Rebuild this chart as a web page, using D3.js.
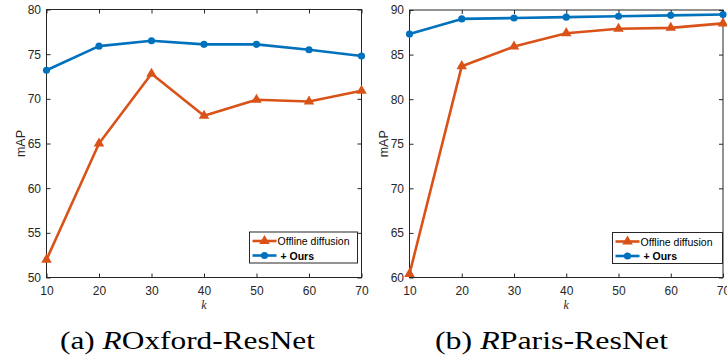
<!DOCTYPE html>
<html>
<head>
<meta charset="utf-8">
<script src="https://cdn.jsdelivr.net/npm/d3@7"></script>
<style>
  body { margin: 0; background: #fff; }
  svg text { font-family: "Liberation Sans", Arial, sans-serif; }
</style>
</head>
<body>
<div id="chart"></div>
<script>
// data
const kValues = [10, 20, 30, 40, 50, 60, 70];
const oxfordOffline = [52.0, 65.0, 72.8, 68.1, 69.9, 69.7, 70.9];
const oxfordOurs = [73.2, 75.9, 76.5, 76.1, 76.1, 75.5, 74.8];
const parisOffline = [60.4, 83.7, 85.9, 87.4, 87.9, 88.0, 88.5];
const parisOurs = [87.3, 89.0, 89.1, 89.2, 89.3, 89.4, 89.5];
const oxfordTicks = [50, 55, 60, 65, 70, 75, 80];
const parisTicks = [60, 65, 70, 75, 80, 85, 90];
const seriesNames = ["Offline diffusion", " + Ours"];

const orange = "#d95319", blue = "#0072bd", axisCol = "#262626";

const svg = d3.select("#chart").append("svg")
    .attr("width", 727)
    .attr("height", 360);

function drawPanel(opt) {
    const g = svg.append("g");
    const x = d3.scaleLinear().domain([10, 70]).range([opt.left, opt.right]);
    const y = d3.scaleLinear().domain(opt.yDomain).range([opt.bottom, opt.top]);

    // box
    g.append("rect")
        .attr("x", opt.left).attr("y", opt.top)
        .attr("width", opt.right - opt.left).attr("height", opt.bottom - opt.top)
        .attr("fill", "none").attr("stroke", axisCol).attr("stroke-width", 1);

    // axes, ticks pointing inward on all four sides
    const xb = g.append("g")
        .attr("transform", "translate(0," + opt.bottom + ")")
        .call(d3.axisBottom(x).tickValues(kValues).tickSizeInner(-4).tickSizeOuter(0).tickPadding(8.5));
    const xt = g.append("g")
        .attr("transform", "translate(0," + opt.top + ")")
        .call(d3.axisTop(x).tickValues(kValues).tickSizeInner(-4).tickSizeOuter(0).tickFormat(""));
    const yl = g.append("g")
        .attr("transform", "translate(" + opt.left + ",0)")
        .call(d3.axisLeft(y).tickValues(opt.yTicks).tickSizeInner(-4).tickSizeOuter(0).tickPadding(5.5));
    const yr = g.append("g")
        .attr("transform", "translate(" + opt.right + ",0)")
        .call(d3.axisRight(y).tickValues(opt.yTicks).tickSizeInner(-4).tickSizeOuter(0).tickFormat(""));
    [xb, xt, yl, yr].forEach(a => {
        a.select(".domain").remove();
        a.selectAll("line").attr("stroke", axisCol);
        a.selectAll("text").attr("fill", axisCol).style("font-size", "12px")
            .style("font-family", "'Liberation Sans', Arial, sans-serif");
    });

    // axis labels
    g.append("text")
        .attr("transform", "translate(" + (opt.left - 22) + "," + ((opt.top + opt.bottom) / 2) + ")rotate(-90)")
        .attr("text-anchor", "middle")
        .attr("fill", axisCol)
        .style("font-size", "12.5px")
        .text("mAP");
    g.append("text")
        .attr("x", (opt.left + opt.right) / 2)
        .attr("y", opt.bottom + 31.5)
        .attr("text-anchor", "middle")
        .attr("fill", axisCol)
        .style("font-family", "'Liberation Serif', serif")
        .style("font-style", "italic")
        .style("font-size", "12px")
        .text("k");

    // lines
    const line = d3.line().x((d, i) => x(kValues[i])).y(d => y(d));
    const series = [
        { vals: opt.offline, col: orange, marker: "tri" },
        { vals: opt.ours, col: blue, marker: "circ" }
    ];
    const clip = "clip" + opt.id;
    svg.append("clipPath").attr("id", clip).append("rect")
        .attr("x", opt.left - 10).attr("y", opt.top - 10)
        .attr("width", 727 - opt.left + 10).attr("height", opt.bottom - opt.top + 20);
    const pg = g.append("g").attr("clip-path", "url(#" + clip + ")");
    series.forEach(s => {
        pg.append("path")
            .datum(s.vals)
            .attr("d", line)
            .attr("fill", "none")
            .attr("stroke", s.col)
            .attr("stroke-width", 2.6)
            .attr("stroke-linejoin", "round");
        pg.selectAll(null)
            .data(s.vals)
            .enter()
            .append("path")
            .attr("transform", (d, i) => "translate(" + x(kValues[i]) + "," + y(d) + ")")
            .attr("d", s.marker === "tri"
                ? d3.symbol().type(d3.symbolTriangle).size(48)
                : d3.symbol().type(d3.symbolCircle).size(40))
            .attr("fill", s.col);
    });

    // legend
    const lg = g.append("g");
    lg.append("rect")
        .attr("x", opt.legX).attr("y", opt.legY)
        .attr("width", opt.legW).attr("height", 31)
        .attr("fill", "#fff").attr("stroke", axisCol).attr("stroke-width", 1);
    series.forEach((s, i) => {
        const cy = opt.legY + 9 + i * 14.5;
        lg.append("line")
            .attr("x1", opt.legX + 3).attr("x2", opt.legX + 27)
            .attr("y1", cy).attr("y2", cy)
            .attr("stroke", s.col).attr("stroke-width", 2.6);
        lg.append("path")
            .attr("transform", "translate(" + (opt.legX + 15) + "," + cy + ")")
            .attr("d", s.marker === "tri"
                ? d3.symbol().type(d3.symbolTriangle).size(48)
                : d3.symbol().type(d3.symbolCircle).size(40))
            .attr("fill", s.col);
        lg.append("text")
            .attr("x", opt.legX + 28).attr("y", cy + 4)
            .attr("fill", "#000")
            .style("font-size", "10.5px")
            .style("font-weight", i === 1 ? "bold" : "normal")
            .text(i === 1 ? "\u00a0+ Ours" : seriesNames[i]);
    });

    // caption, widened to the size it has in the figure
    const cap = svg.append("text")
        .attr("x", opt.capX)
        .attr("y", 349)
        .attr("text-anchor", "middle")
        .attr("fill", "#000")
        .attr("textLength", opt.capW)
        .attr("lengthAdjust", "spacingAndGlyphs")
        .style("font-family", "'Liberation Serif', 'DejaVu Serif', serif")
        .style("font-size", "25px");
    cap.append("tspan").text(opt.capPre);
    cap.append("tspan").style("font-style", "italic").text("R");
    cap.append("tspan").text(opt.capPost);
}

drawPanel({
    id: "a", left: 46.5, right: 361.5, top: 9.5, bottom: 277.5,
    yDomain: [50, 80], yTicks: oxfordTicks,
    offline: oxfordOffline, ours: oxfordOurs,
    legX: 249.5, legY: 232, legW: 108,
    capX: 187.5, capW: 255, capPre: "(a) ", capPost: "Oxford-ResNet"
});
drawPanel({
    id: "b", left: 409.5, right: 723, top: 10, bottom: 277.5,
    yDomain: [60, 90], yTicks: parisTicks,
    offline: parisOffline, ours: parisOurs,
    legX: 612.5, legY: 232.5, legW: 110,
    capX: 551.5, capW: 233, capPre: "(b) ", capPost: "Paris-ResNet"
});
</script>
</body>
</html>
